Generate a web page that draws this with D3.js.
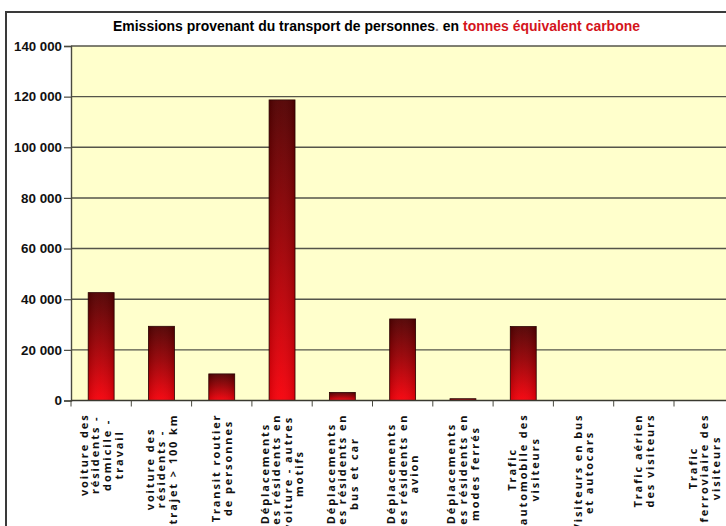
<!DOCTYPE html>
<html>
<head>
<meta charset="utf-8">
<script src="https://cdn.jsdelivr.net/npm/d3@7"></script>
<style>
  html, body { margin: 0; padding: 0; background: #ffffff; }
  svg { display: block; }
</style>
</head>
<body>
<svg id="chart" width="726" height="526"></svg>
<script>
// Emission categories (each label split into its display lines)
const categories = [
  ["voiture des", "résidents -", "domicile -", "travail"],
  ["voiture des", "résidents -", "trajet > 100 km"],
  ["Transit routier", "de personnes"],
  ["Déplacements", "des résidents en", "voiture - autres", "motifs"],
  ["Déplacements", "des résidents en", "bus et car"],
  ["Déplacements", "des résidents en", "avion"],
  ["Déplacements", "des résidents en", "modes ferrés"],
  ["Trafic", "automobile des", "visiteurs"],
  ["Visiteurs en bus", "et autocars"],
  ["Trafic aérien", "des visiteurs"],
  ["Trafic", "ferroviaire des", "visiteurs"]
];
// Emissions in tonnes equivalent carbon
const emissions = [42600, 29300, 10500, 118700, 3200, 32200, 700, 29200, 0, 0, 0];
// Value axis ticks
const yTicks = [0, 20000, 40000, 60000, 80000, 100000, 120000, 140000];
const titleParts = [
  { text: "Emissions provenant du transport de personnes", color: "#000000" },
  { text: ".", color: "#9a8a8a" },
  { text: " en ", color: "#000000" },
  { text: "tonnes équivalent carbone", color: "#d4141c" }
];

const svg = d3.select("#chart");
const plot = { left: 71, top: 46, bottom: 400.5, right: 734.3 };

const x = d3.scaleBand()
  .domain(d3.range(categories.length))
  .range([plot.left, plot.right])
  .paddingInner(0.57).paddingOuter(0.285);
const xb = d3.scaleBand()
  .domain(d3.range(categories.length))
  .range([plot.left, plot.right]);
const y = d3.scaleLinear().domain([0, 140000]).range([plot.bottom, plot.top]);

// gradient for the bars: dark maroon at the top to bright red at the base
const defs = svg.append("defs");
const grad = defs.append("linearGradient")
  .attr("id", "barGrad").attr("x1", 0).attr("y1", 0).attr("x2", 0).attr("y2", 1);
grad.append("stop").attr("offset", "0%").attr("stop-color", "#520000");
grad.append("stop").attr("offset", "45%").attr("stop-color", "#980004");
grad.append("stop").attr("offset", "100%").attr("stop-color", "#f8000a");
const shade = defs.append("linearGradient")
  .attr("id", "barShade").attr("x1", 0).attr("y1", 0).attr("x2", 1).attr("y2", 0);
shade.append("stop").attr("offset", "0%").attr("stop-color", "#000").attr("stop-opacity", 0.12);
shade.append("stop").attr("offset", "45%").attr("stop-color", "#fff").attr("stop-opacity", 0.04);
shade.append("stop").attr("offset", "100%").attr("stop-color", "#000").attr("stop-opacity", 0.12);

// outer frame
svg.append("rect")
  .attr("x", 6).attr("y", 12).attr("width", 760).attr("height", 560)
  .attr("fill", "#ffffff").attr("stroke", "#3a3a3a").attr("stroke-width", 2);

// plot area
svg.append("rect")
  .attr("x", plot.left).attr("y", plot.top)
  .attr("width", plot.right - plot.left).attr("height", plot.bottom - plot.top)
  .attr("fill", "#ffffcc");

// gridlines
svg.append("g").selectAll("line").data(yTicks.filter(d => d > 0)).join("line")
  .attr("x1", plot.left).attr("x2", plot.right)
  .attr("y1", d => y(d)).attr("y2", d => y(d))
  .attr("stroke", "#55554a").attr("stroke-width", 1.4);

// bars
const bars = svg.append("g");
bars.selectAll("rect.bar").data(emissions).join("rect")
  .attr("class", "bar")
  .attr("x", (d, i) => x(i)).attr("width", x.bandwidth())
  .attr("y", d => y(d)).attr("height", d => plot.bottom - y(d))
  .attr("fill", "url(#barGrad)")
  .attr("stroke", "#2a0000").attr("stroke-width", 0.8);
bars.selectAll("rect.shade").data(emissions).join("rect")
  .attr("class", "shade")
  .attr("x", (d, i) => x(i)).attr("width", x.bandwidth())
  .attr("y", d => y(d)).attr("height", d => plot.bottom - y(d))
  .attr("fill", "url(#barShade)");

// y axis
const yAxis = svg.append("g")
  .attr("transform", `translate(${plot.left},0)`)
  .call(d3.axisLeft(y).tickValues(yTicks).tickSize(7).tickPadding(2)
    .tickFormat(d => d3.format(",")(d).replace(/,/g, " ")));
yAxis.select(".domain").attr("stroke", "#4a4a40").attr("stroke-width", 1.4);
yAxis.selectAll(".tick line").attr("stroke", "#4a4a40").attr("stroke-width", 1.2);
yAxis.selectAll(".tick text")
  .attr("fill", "#111").attr("font-family", "'Liberation Sans', Arial, sans-serif")
  .attr("font-weight", "bold").attr("font-size", 13.5)
  .attr("textLength", 48).attr("lengthAdjust", "spacingAndGlyphs")
  .each(function (d) { if (d < 100000) d3.select(this).attr("textLength", 41); })
  .each(function (d) { if (d === 0) d3.select(this).attr("textLength", null); });

// x axis with ticks at category boundaries
const xAxis = svg.append("g")
  .attr("transform", `translate(0,${plot.bottom})`);
xAxis.append("line")
  .attr("x1", plot.left).attr("x2", plot.right)
  .attr("stroke", "#3a3a30").attr("stroke-width", 1.6);
xAxis.selectAll("line.tk").data(d3.range(categories.length + 1)).join("line")
  .attr("class", "tk")
  .attr("x1", i => plot.left + i * xb.step()).attr("x2", i => plot.left + i * xb.step())
  .attr("y1", 0).attr("y2", 6)
  .attr("stroke", "#4a4a40").attr("stroke-width", 1);

// rotated category labels
const fs = 11, lineH = 11.6, labelTop = plot.bottom + 13;
categories.forEach((lines, i) => {
  const cx = xb(i) + xb.bandwidth() / 2;
  const g = svg.append("g");
  const texts = g.selectAll("text").data(lines).join("text")
    .attr("font-family", "'Open Sans', sans-serif")
    .attr("font-weight", "bold").attr("font-size", fs)
    .attr("letter-spacing", 1.9)
    .attr("fill", "#111").attr("text-anchor", "middle")
    .text(d => d);
  const maxLen = d3.max(texts.nodes(), n => n.getComputedTextLength());
  const cy = labelTop + maxLen / 2;
  texts.attr("transform", (d, j) => {
    const lx = cx + (j - (lines.length - 1) / 2) * lineH + 4;
    return `translate(${lx},${cy}) rotate(-90)`;
  });
});

// title, condensed to span the header
const title = svg.append("text")
  .attr("x", 113).attr("y", 31)
  .attr("font-family", "'Liberation Sans', Arial, sans-serif")
  .attr("font-weight", "bold").attr("font-size", 14.5)
  .attr("textLength", 527).attr("lengthAdjust", "spacingAndGlyphs");
titleParts.forEach(p => {
  title.append("tspan").attr("fill", p.color).text(p.text);
});
</script>
</body>
</html>
